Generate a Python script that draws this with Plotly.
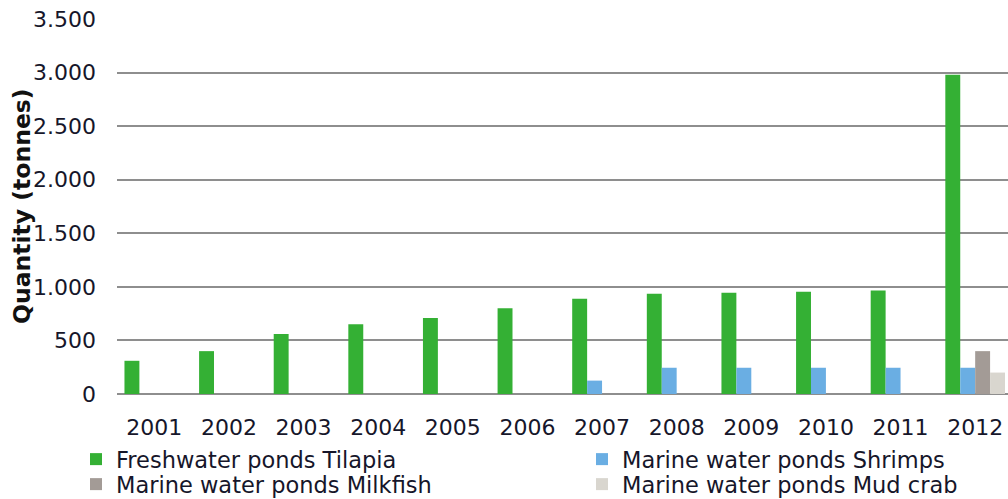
import plotly.graph_objects as go

years = ["2001", "2002", "2003", "2004", "2005", "2006",
         "2007", "2008", "2009", "2010", "2011", "2012"]
tilapia = [310, 400, 560, 650, 710, 800, 890, 935, 945, 955, 965, 2980]
shrimps = [None, None, None, None, None, None, 125, 245, 245, 245, 245, 245]
milkfish = [None] * 11 + [400]
mud_crab = [None] * 11 + [200]

TEXT = "#16162a"
FONT = "DejaVu Sans"
PLOT_L, PLOT_R, PLOT_T, PLOT_B = 117, 1008, 19, 394
PW, PH = PLOT_R - PLOT_L, PLOT_B - PLOT_T


def px_x(x):
    return (x - PLOT_L) / PW


def px_y(y):
    return (PLOT_B - y) / PH


# name, values, colour, legend id, legend entry position (left px, top px)
series = [
    ("Freshwater ponds Tilapia", tilapia, "#34B034", "legend", (76, 438)),
    ("Marine water ponds Shrimps", shrimps, "#6AAEE3", "legend2", (582, 438)),
    ("Marine water ponds Milkfish", milkfish, "#A39B96", "legend3", (76, 463)),
    ("Marine water ponds Mud crab", mud_crab, "#D9D6CF", "legend4", (582, 463)),
]

fig = go.Figure()
legends = {}
for name, vals, color, leg, (lx, ly) in series:
    fig.add_trace(go.Bar(x=years, y=vals, name=name, marker_color=color,
                         marker_line_width=0, legend=leg))
    legends[leg] = dict(
        x=px_x(lx), y=px_y(ly), orientation="v",
        xanchor="left", yanchor="top",
        font=dict(family=FONT, size=22.5, color=TEXT),
        itemclick=False, bgcolor="rgba(0,0,0,0)",
    )

fig.update_layout(
    width=1008, height=499,
    margin=dict(l=PLOT_L, r=0, t=PLOT_T, b=499 - PLOT_B, autoexpand=False),
    paper_bgcolor="white", plot_bgcolor="white",
    separators=",.",
    barmode="group", bargap=0.2, bargroupgap=0,
    font=dict(family=FONT, size=22, color=TEXT),
    showlegend=True,
    **legends,
)
fig.update_xaxes(
    type="category", range=[-0.5, 11.44],
    showgrid=False, showline=False, zeroline=False,
    ticks="", ticklabelstandoff=18,
    tickfont=dict(family=FONT, size=22, color=TEXT),
)
fig.update_yaxes(
    range=[0, 3500], tick0=0, dtick=500, tickformat=",d",
    showgrid=True, gridcolor="#8e8e8e", gridwidth=1.6,
    zeroline=True, zerolinecolor="#8e8e8e", zerolinewidth=1.6,
    showline=False, ticks="", ticklabelstandoff=20,
    tickfont=dict(family=FONT, size=22, color=TEXT),
)
fig.add_annotation(
    text="<b>Quantity (tonnes)</b>", textangle=-90,
    xref="paper", yref="paper", x=px_x(22), y=px_y(206),
    xanchor="center", yanchor="middle", showarrow=False,
    font=dict(family=FONT, size=23.5, color="#111111"),
)

fig.write_html("out.html")
